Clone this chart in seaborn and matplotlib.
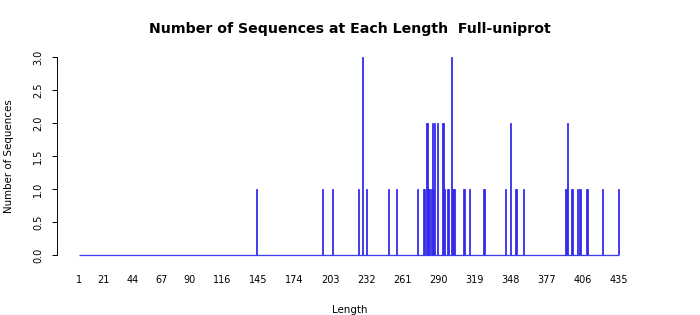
import matplotlib
matplotlib.use("Agg")
import matplotlib.pyplot as plt
import numpy as np
import pandas as pd
import seaborn as sns

# ---- data ----
length_min, length_max = 1, 435
bar_lengths = [144, 197, 205, 226, 229, 232, 250, 256, 273,
               278, 279, 280, 281, 282, 283, 284, 285, 286, 287, 289,
               293, 294, 295, 297, 298, 300, 301, 302, 303,
               310, 311, 315, 326, 327, 344, 348, 352, 353, 358,
               392, 393, 394, 397, 398, 402, 403, 404, 409, 410, 422, 435]
bar_counts = [1, 1, 1, 1, 3, 1, 1, 1, 1,
              1, 1, 2, 2, 1, 1, 1, 2, 1, 2, 2,
              2, 2, 1, 1, 1, 3, 1, 1, 1,
              1, 1, 1, 1, 1, 1, 2, 1, 1, 1,
              1, 1, 2, 1, 1, 1, 1, 1, 1, 1, 1, 1]
xtick_values = [1, 21, 44, 67, 90, 116, 145, 174, 203, 232, 261, 290,
                319, 348, 377, 406, 435]
ytick_values = [0.0, 0.5, 1.0, 1.5, 2.0, 2.5, 3.0]
title_text = "Number of Sequences at Each Length  Full-uniprot"

all_lengths = np.arange(length_min, length_max + 1)
count_map = dict(zip(bar_lengths, bar_counts))
df = pd.DataFrame({"Length": all_lengths,
                   "Count": [count_map.get(v, 0) for v in all_lengths]})

sns.set_style("white")
plt.rcParams["font.family"] = ["DejaVu Sans"]
plt.rcParams["text.color"] = "black"
plt.rcParams["axes.labelcolor"] = "black"

fig = plt.figure(figsize=(10, 4.5), dpi=70)
ax = fig.add_axes([57 / 700, 60 / 315, 586 / 700, 198 / 315])

sns.barplot(data=df, x="Length", y="Count", native_scale=True,
            color="#4200c8", saturation=1, edgecolor="#3030ee",
            linewidth=0.8, ax=ax)
# zero-count baseline along the full length range
ax.hlines(0, length_min - 0.4, length_max + 0.4, color="#3a3aee",
          linewidth=1.3, clip_on=False, zorder=5)

ax.set_xlim(-16.7, 454.3)
ax.set_ylim(0, 3)
ax.set_xticks(xtick_values)
ax.set_xticklabels([str(v) for v in xtick_values])
ax.set_yticks(ytick_values)
ax.set_yticklabels([f"{v:.1f}" for v in ytick_values], rotation=90, va="center")

for s in ["top", "right", "bottom"]:
    ax.spines[s].set_visible(False)
ax.spines["left"].set_color("black")
ax.spines["left"].set_linewidth(1.0)

ax.tick_params(axis="x", length=0, pad=21, labelsize=10, colors="black")
ax.tick_params(axis="y", length=5, width=1, pad=9, labelsize=10, colors="black", left=True)

ax.set_xlabel("Length", fontsize=10.5, labelpad=20)
ax.set_ylabel("Number of Sequences", fontsize=10.5, labelpad=20)
ax.set_title(title_text, fontsize=14.5, fontweight="bold", pad=25)

fig.savefig("out.png", dpi=70)
